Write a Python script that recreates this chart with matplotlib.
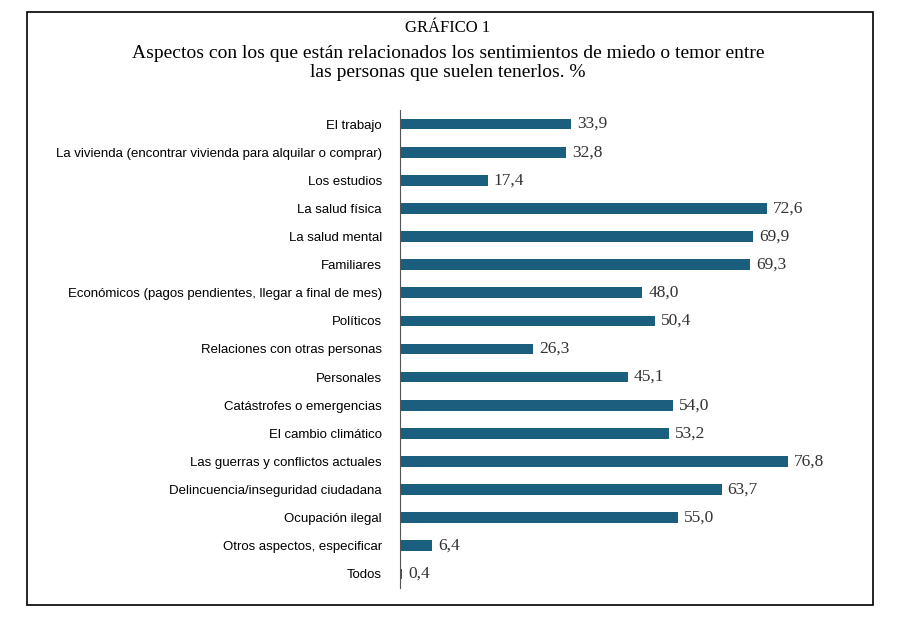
import matplotlib.pyplot as plt
from matplotlib.patches import Rectangle

categorias = ['El trabajo',
              'La vivienda (encontrar vivienda para alquilar o comprar)',
              'Los estudios', 'La salud física', 'La salud mental', 'Familiares',
              'Económicos (pagos pendientes, llegar a final de mes)',
              'Políticos', 'Relaciones con otras personas', 'Personales',
              'Catástrofes o emergencias', 'El cambio climático',
              'Las guerras y conflictos actuales',
              'Delincuencia/inseguridad ciudadana', 'Ocupación ilegal',
              'Otros aspectos, especificar', 'Todos']
valores = [33.9, 32.8, 17.4, 72.6, 69.9, 69.3, 48.0, 50.4, 26.3, 45.1,
           54.0, 53.2, 76.8, 63.7, 55.0, 6.4, 0.4]

W, H = 909, 618
fig = plt.figure(figsize=(W / 100, H / 100), dpi=100)
fig.patches.append(Rectangle((27 / W, 1 - 605 / H), 846 / W, 593 / H,
                             transform=fig.transFigure, fill=False,
                             edgecolor='black', linewidth=1.2))

fig.text(448 / W, 1 - 28 / H, 'GRÁFICO 1', ha='center', va='center',
         family='Liberation Serif', fontsize=12)
fig.text(448 / W, 1 - 63 / H,
         'Aspectos con los que están relacionados los sentimientos de miedo o temor entre\n'
         'las personas que suelen tenerlos. %', ha='center', va='center',
         family='Liberation Serif', fontsize=14, linespacing=1.15)

ax = fig.add_axes([400 / W, 1 - 588 / H, 400 / W, 478 / H])
y = list(range(len(categorias)))
ax.barh(y, valores, height=0.38, color='#1B5E7E')
ax.set_xlim(0, 400 / 5.05)
ax.set_ylim(len(categorias) - 0.5, -0.5)
ax.set_yticks(y)
ax.set_yticklabels(categorias, family='Liberation Sans', fontsize=9.5)
ax.tick_params(axis='y', length=0, pad=13)
ax.set_xticks([])
for s in ['top', 'right', 'bottom']:
    ax.spines[s].set_visible(False)
ax.spines['left'].set_color('#555555')
for yi, v in zip(y, valores):
    ax.text(v + 1.2, yi, f'{v:.1f}'.replace('.', ','), va='center',
            family='Liberation Serif', fontsize=12.5, color='#333333')

fig.savefig('out.png', dpi=100)
